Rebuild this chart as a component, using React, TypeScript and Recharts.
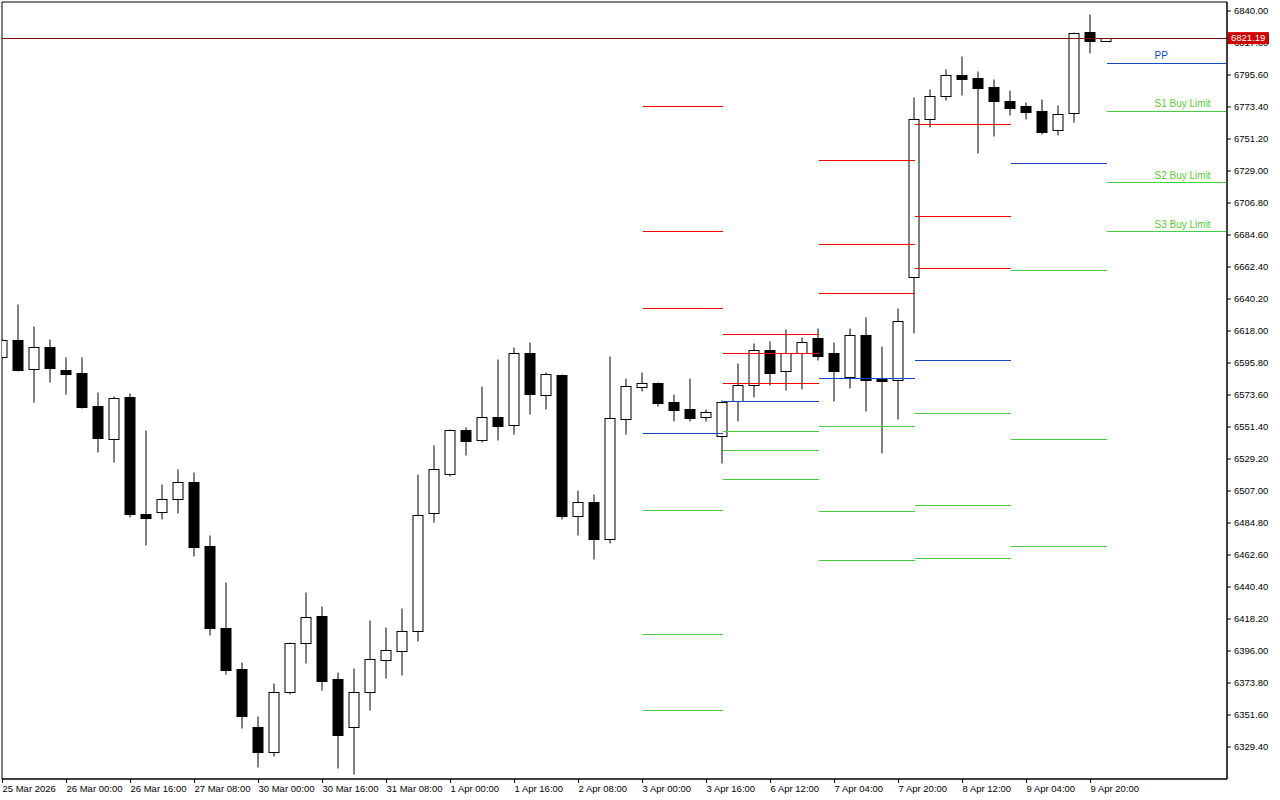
import React from 'react';
import { ComposedChart, Bar, XAxis, YAxis, ReferenceLine, ReferenceArea } from 'recharts';

// 4H candles, 25 Mar 2026 08:00 .. 10 Apr 2026 00:00
const opens = [
  6600.2, 6611.8, 6591.9, 6606.7, 6590.9, 6588.9, 6566.0, 6543.3, 6572.2, 6491.0,
  6492.2, 6501.7, 6513.0, 6468.6, 6411.8, 6383.3, 6343.1, 6326.1, 6367.4, 6401.8,
  6420.1, 6376.4, 6343.1, 6367.4, 6389.6, 6396.2, 6409.7, 6491.5, 6519.0, 6549.3,
  6542.2, 6558.1, 6553.0, 6602.5, 6573.8, 6587.5, 6489.9, 6499.2, 6473.9, 6557.2,
  6578.9, 6581.9, 6568.7, 6563.9, 6558.1, 6545.0, 6569.4, 6580.3, 6604.6, 6590.0,
  6602.5, 6612.9, 6602.7, 6586.1, 6615.2, 6585.4, 6584.0, 6655.3, 6764.9, 6780.8,
  6795.4, 6793.3, 6787.1, 6777.3, 6773.9, 6770.4, 6757.2, 6769.0, 6825.2, 6819.0,
];
const highs = [
  6613.1, 6636.7, 6621.5, 6612.5, 6600.0, 6600.0, 6575.7, 6572.9, 6575.0, 6549.3,
  6511.9, 6522.3, 6520.0, 6476.3, 6443.7, 6388.2, 6350.7, 6373.6, 6402.4, 6436.7,
  6427.2, 6381.4, 6384.2, 6417.5, 6412.7, 6425.8, 6518.8, 6538.9, 6550.0, 6551.4,
  6579.8, 6598.6, 6606.9, 6610.4, 6589.6, 6588.2, 6507.7, 6504.9, 6600.7, 6585.4,
  6589.6, 6582.6, 6574.3, 6585.4, 6563.9, 6570.1, 6595.8, 6609.7, 6611.1, 6619.4,
  6613.8, 6620.1, 6610.4, 6620.1, 6627.7, 6607.6, 6634.0, 6780.3, 6785.9, 6799.8,
  6808.8, 6798.2, 6792.8, 6785.0, 6776.9, 6778.9, 6774.8, 6825.4, 6837.7, 6821.19,
];
const lows = [
  6599.3, 6590.5, 6569.0, 6582.8, 6574.5, 6564.6, 6534.1, 6527.1, 6489.2, 6469.8,
  6487.8, 6491.9, 6462.1, 6407.3, 6380.3, 6342.8, 6315.7, 6323.4, 6366.4, 6387.9,
  6369.2, 6315.0, 6310.9, 6355.3, 6377.5, 6379.6, 6403.1, 6485.7, 6517.6, 6532.0,
  6541.2, 6542.6, 6546.8, 6560.6, 6564.1, 6487.8, 6476.7, 6460.0, 6471.1, 6546.8,
  6576.6, 6566.2, 6555.8, 6555.8, 6555.8, 6526.6, 6555.8, 6572.4, 6580.7, 6577.3,
  6578.0, 6598.1, 6569.4, 6578.5, 6562.5, 6533.4, 6557.0, 6616.4, 6759.7, 6778.3,
  6781.9, 6741.7, 6753.3, 6768.1, 6765.3, 6754.5, 6754.2, 6763.2, 6810.7, 6819.0,
];
const closes = [
  6611.8, 6590.9, 6606.7, 6592.3, 6588.4, 6565.3, 6544.0, 6571.3, 6491.3, 6488.5,
  6501.2, 6513.0, 6468.4, 6412.2, 6383.0, 6351.1, 6326.1, 6367.4, 6401.3, 6419.4,
  6375.4, 6337.9, 6367.4, 6390.2, 6396.5, 6409.7, 6490.1, 6522.1, 6549.3, 6541.9,
  6558.1, 6552.3, 6602.5, 6574.5, 6588.0, 6489.9, 6499.2, 6473.7, 6557.4, 6579.6,
  6581.7, 6568.3, 6563.4, 6557.9, 6561.6, 6568.5, 6580.3, 6604.6, 6589.1, 6602.5,
  6610.2, 6600.9, 6590.2, 6615.0, 6584.0, 6583.3, 6624.9, 6764.9, 6780.8, 6795.4,
  6793.0, 6786.8, 6777.8, 6772.9, 6770.1, 6756.3, 6768.3, 6824.7, 6819.4, 6821.19,
];

const lastPrice = 6821.19;

const timeTicks = [0, 4, 8, 12, 16, 20, 24, 28, 32, 36, 40, 44, 48, 52, 56, 60, 64, 68];
const timeLabels = [
  '25 Mar 2026', '26 Mar 00:00', '26 Mar 16:00', '27 Mar 08:00', '30 Mar 00:00', '30 Mar 16:00',
  '31 Mar 08:00', '1 Apr 00:00', '1 Apr 16:00', '2 Apr 08:00', '3 Apr 00:00', '3 Apr 16:00',
  '6 Apr 12:00', '7 Apr 04:00', '7 Apr 20:00', '8 Apr 12:00', '9 Apr 04:00', '9 Apr 20:00',
];

const priceTicks = [
  6329.4, 6351.6, 6373.8, 6396.0, 6418.2, 6440.4, 6462.6, 6484.8, 6507.0, 6529.2, 6551.4, 6573.6,
  6595.8, 6618.0, 6640.2, 6662.4, 6684.6, 6706.8, 6729.0, 6751.2, 6773.4, 6795.6, 6817.8, 6840.0,
];

// daily pivot levels: [fromBar, toBar, R3, R2, R1, PP, S1, S2, S3]
const pivotDays = [
  [40, 45, 6773.4, 6686.7, 6633.3, 6547.2, 6493.8, 6407.1, 6354.4],
  [45, 51, 6615.7, 6602.5, 6581.7, 6569.2, 6548.4, 6535.2, 6515.1],
  [51, 57, 6736.4, 6678.1, 6644.2, 6585.2, 6551.9, 6492.9, 6458.9],
  [57, 63, 6761.4, 6697.6, 6661.5, 6597.2, 6561.1, 6496.6, 6460.5],
  [63, 69, null, null, null, 6734.3, 6660.1, 6542.4, 6468.2],
];
const currentLevels = [
  { name: 'PP', price: 6803.9 },
  { name: 'S1 Buy Limit', price: 6770.4 },
  { name: 'S2 Buy Limit', price: 6720.7 },
  { name: 'S3 Buy Limit', price: 6686.7 },
];

const RED = '#ff0000';
const BLUE = '#1447c8';
const GREEN = '#3fcf3f';
const FONT = '"Liberation Sans", Arial, sans-serif';

const X_MIN = -0.03125;
const X_MAX = 76.53125;
const Y_MIN = 6307.19;
const Y_MAX = 6846.24;

const data = opens.map((o, i) => ({
  i,
  o,
  h: highs[i],
  l: lows[i],
  c: closes[i],
  range: [lows[i], highs[i]],
}));

const Candle = (props: any) => {
  const { x, y, width, height, payload } = props;
  const { o, h, l, c } = payload;
  const top = Math.min(y, y + height);
  const k = Math.abs(height) / (h - l);
  const py = (p: number) => Math.round(top + (h - p) * k) + 0.5;
  const cx = x + width / 2;
  const bTop = Math.min(py(o), py(c));
  const bBot = Math.max(py(o), py(c));
  return (
    <g>
      <line x1={cx} x2={cx} y1={py(h)} y2={py(l)} stroke="#000" strokeWidth={1} />
      <rect
        x={cx - 5}
        y={bTop}
        width={10}
        height={Math.max(1, bBot - bTop)}
        fill={c >= o ? '#fff' : '#000'}
        stroke="#000"
        strokeWidth={1}
      />
    </g>
  );
};

const TimeTick = (props: any) => {
  const { x, y, payload } = props;
  const idx = timeTicks.indexOf(payload.value);
  return (
    <text x={x} y={y} dy="0.71em" textAnchor="start" fontSize={9.5} fontFamily={FONT} fill="#000">
      {timeLabels[idx]}
    </text>
  );
};

// price ticks; the last-price tag is the last tick so it sits on top
const PriceTick = (props: any) => {
  const { x, y, payload } = props;
  if (payload.value === lastPrice) {
    return (
      <g>
        <rect x={x - 5} y={y - 6} width={41} height={12} fill="#cc0000" />
        <text x={x - 2} y={y} dy="0.35em" fontSize={9.5} fontFamily={FONT} fill="#fff">
          {lastPrice.toFixed(2)}
        </text>
      </g>
    );
  }
  return (
    <text x={x + 1} y={y} dy="0.35em" textAnchor="start" fontSize={9.5} fontFamily={FONT} fill="#000">
      {Number(payload.value).toFixed(2)}
    </text>
  );
};

const LevelLabel = (props: any) => {
  const { viewBox, value, color } = props;
  return (
    <text x={viewBox.x + 48} y={viewBox.y - 4} textAnchor="start" fontSize={10} fontFamily={FONT} fill={color}>
      {value}
    </text>
  );
};

const levelColor = (k: number) => (k < 3 ? RED : k === 3 ? BLUE : GREEN);

export default function App() {
  return (
    <div style={{ position: 'absolute', left: 0, top: 0, background: '#fff' }}>
      <ComposedChart
        width={1280}
        height={800}
        data={data}
        margin={{ top: 2, right: 0, bottom: 0, left: 2 }}
        style={{ fontFamily: FONT }}
      >
        <XAxis
          dataKey="i"
          type="number"
          domain={[X_MIN, X_MAX]}
          allowDataOverflow
          ticks={timeTicks}
          interval={0}
          tick={<TimeTick />}
          tickSize={4}
          tickMargin={2}
          height={21}
          axisLine={{ stroke: '#000' }}
          tickLine={{ stroke: '#000' }}
        />
        <YAxis
          orientation="right"
          type="number"
          domain={[Y_MIN, Y_MAX]}
          allowDataOverflow
          ticks={[...priceTicks, lastPrice]}
          tick={<PriceTick />}
          tickSize={4}
          tickMargin={2}
          width={53}
          axisLine={{ stroke: '#000' }}
          tickLine={{ stroke: '#000' }}
          interval={0}
        />
        <ReferenceArea x1={X_MIN} x2={X_MAX} y1={Y_MIN} y2={Y_MAX} fill="none" stroke="#000" ifOverflow="visible" />
        {pivotDays.map((d) =>
          d.slice(2).map((p, k) =>
            p === null ? null : (
              <ReferenceLine
                key={`lv-${d[0]}-${k}`}
                segment={[
                  { x: d[0] as number, y: p as number },
                  { x: d[1] as number, y: p as number },
                ]}
                stroke={levelColor(k)}
                strokeWidth={1}
                shapeRendering="crispEdges"
                ifOverflow="hidden"
              />
            )
          )
        )}
        {currentLevels.map((lv, k) => (
          <ReferenceLine
            key={lv.name}
            segment={[
              { x: 69, y: lv.price },
              { x: X_MAX, y: lv.price },
            ]}
            stroke={k === 0 ? BLUE : GREEN}
            strokeWidth={1}
            shapeRendering="crispEdges"
            label={<LevelLabel value={lv.name} color={k === 0 ? BLUE : '#55cc33'} />}
          />
        ))}
        <ReferenceLine y={lastPrice} stroke="#7a1010" strokeWidth={1} shapeRendering="crispEdges" />
        <Bar dataKey="range" barSize={11} shape={<Candle />} isAnimationActive={false} />
      </ComposedChart>
    </div>
  );
}
